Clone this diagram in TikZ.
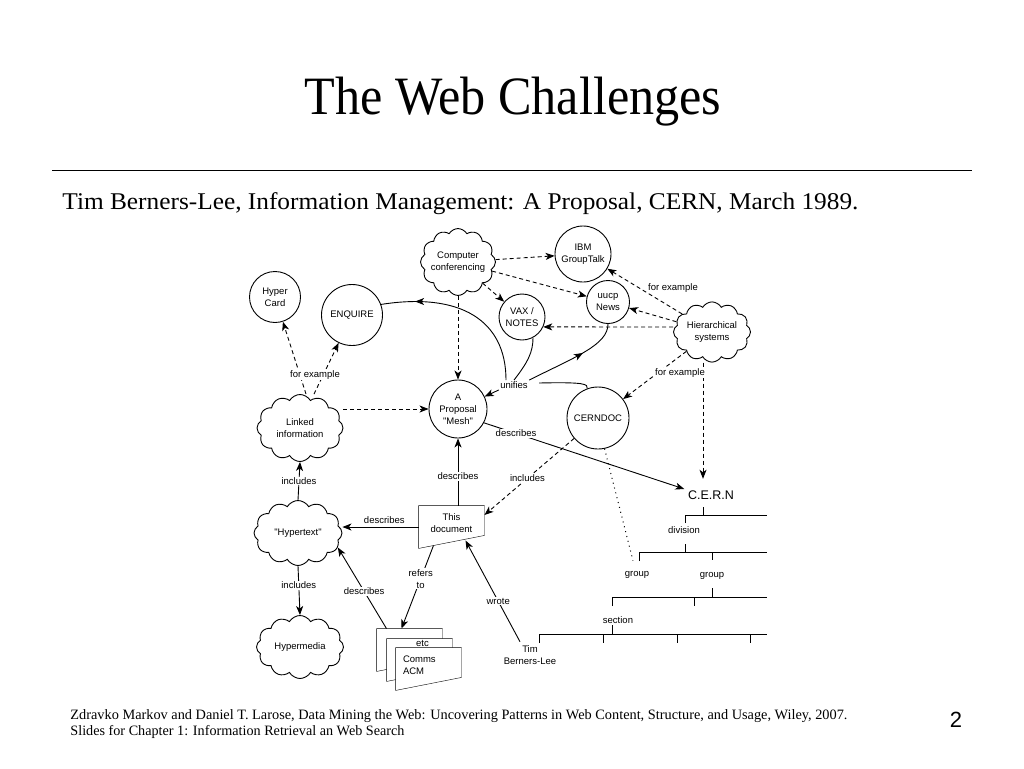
\documentclass[tikz,border=0pt]{standalone}
\usepackage{fontspec}
\usepackage{graphicx}
\setmainfont{Liberation Serif}
\newfontfamily\diagfont{Liberation Sans}
\usetikzlibrary{shapes.symbols, arrows.meta, positioning, backgrounds, decorations.markings}
\newcommand{\diag}{\diagfont\fontsize{9.5}{12}\selectfont}

\begin{document}
\begin{tikzpicture}[
    x=1pt, y=-1pt, line width=0.9pt,
    bubble/.style={circle, draw, align=center, inner sep=0pt, font=\diag},
    puff/.style={cloud, draw, cloud puffs=12, cloud puff arc=120, align=center,
                 inner sep=-6pt, font=\diag},
    sheet/.style={rectangle, minimum width=65pt, minimum height=34pt, inner sep=0pt,
                  align=center, font=\diag},
    lbl/.style={font=\diag, fill=white, inner sep=1pt, align=center},
    see/.style={dash pattern=on 4pt off 3pt, -{Stealth[length=9pt, width=7pt, inset=2.5pt]}},
    link/.style={-{Stealth[length=9pt, width=7pt, inset=2.5pt]}},
    midarrow/.style={postaction={decorate, decoration={markings,
                     mark=at position #1 with {\arrow{Stealth[length=9pt, width=7pt, inset=2.5pt]}}}}}
]
    \useasboundingbox (0,0) rectangle (1024,768);

    % Slide heading
    \node[anchor=base, inner sep=0pt] (title) at (513,114)
        {\resizebox{417pt}{\height}{\fontsize{54}{60}\selectfont The Web Challenges}};
    \draw[line width=1pt] (52,170) -- (972,170);
    \node[anchor=base west, inner sep=0pt] (cite) at (62,209)
        {\resizebox{796pt}{\height}{\fontsize{24}{28}\selectfont Tim Berners-Lee, Information Management: A Proposal, CERN, March 1989.}};

    % Circles and clouds
    \node[puff, minimum width=75pt, minimum height=53pt] (comp) at (458,262) {Computer\\conferencing};
    \node[bubble, minimum size=56pt] (ibm) at (583,254) {IBM\\GroupTalk};
    \node[bubble, minimum size=43pt] (uucp) at (608,302) {uucp\\News};
    \node[bubble, minimum size=46pt] (vax) at (522,317) {VAX /\\NOTES};
    \node[puff, minimum width=77pt, minimum height=57pt] (hier) at (712,332) {Hierarchical\\systems};
    \node[bubble, minimum size=51pt] (hcard) at (275,297) {Hyper\\Card};
    \node[bubble, minimum size=61pt] (enq) at (352,315) {ENQUIRE};
    \node[bubble, minimum size=58pt] (prop) at (458,409) {A\\Proposal\\"Mesh"};
    \node[bubble, minimum size=62pt] (cerndoc) at (598,418) {CERNDOC};
    \node[puff, minimum width=86pt, minimum height=67pt] (linked) at (300,428) {Linked\\information};
    \node[puff, minimum width=88pt, minimum height=65pt] (hyper) at (298,533) {"Hypertext"};
    \node[puff, minimum width=87pt, minimum height=63pt] (hmedia) at (300,647) {Hypermedia};

    % Documents
    \node[sheet] (doc) at (451.5,523) {This\\document};
    \node[sheet] (back) at (409.5,646) {};
    \node[sheet, label={[font=\diag, anchor=north, inner sep=1pt, xshift=3pt]north:etc}] (mid) at (419.5,656) {};
    \node[sheet, text width=51pt, inner xsep=7pt, align=left] (front) at (428.5,665) {Comms\\ACM};
    \begin{scope}[on background layer]
        \fill[white] (0,0) rectangle (1024,768);
        \foreach \s in {doc, back, mid, front}
            \draw[fill=white] (\s.north west) -- (\s.north east) -- ([yshift=5pt]\s.south east)
                -- ([yshift=-8pt]\s.south west) -- cycle;
    \end{scope}

    % Organisation chart
    \node[font=\diagfont\fontsize{12.5}{14}\selectfont] (cern) at (711,495) {C.E.R.N};
    \node[font=\diag] (div) at (684,530) {division};
    \node[font=\diag] (grp1) at (637,575) {group};
    \node[font=\diag] (grp2) at (712,576) {group};
    \node[font=\diag] (sect) at (618,620) {section};
    \node[font=\diag, align=center] (tim) at (530,655) {Tim\\Berners-Lee};
    \draw (703,507) -- (703,515)
          (685,523) -- (685,515) -- (767,515)
          (685,544) -- (685,552)
          (639,561) -- (639,552) -- (767,552)
          (712,552) -- (712,560)
          (712,588) -- (712,597)
          (612,606) -- (612,597) -- (767,597)
          (694,597) -- (694,606)
          (612,625) -- (612,634)
          (539,643) -- (539,634) -- (767,634);
    \foreach \x in {603, 677, 750}
        \draw (\x,634) -- (\x,643);

    % Dashed "for example" links
    \draw[see] (comp) -- (ibm);
    \draw[see] (comp) -- (uucp);
    \draw[see] (comp) -- (vax);
    \draw[see] (comp.south) -- (prop.north);
    \draw[see] (hier) -- (ibm);
    \draw[see] (hier) -- (uucp);
    \draw[see] ([yshift=5pt]hier.west) -- (vax.-25);
    \draw[see] (hier) -- (cerndoc);
    \draw[see] ([xshift=-9pt]hier.south) -- ([xshift=-8pt, yshift=8pt]cern.north);
    \draw[see] ([xshift=6pt]linked.north) -- (hcard);
    \draw[see] ([xshift=14pt]linked.north) -- (enq);
    \draw[see] (linked.east |- prop.west) -- (prop.west);
    \draw[see] (cerndoc) -- node[lbl, pos=0.52] {includes} ([yshift=8pt]doc.east);
    \draw[dash pattern=on 1pt off 4pt, line width=1pt] (cerndoc.-78) -- ([xshift=-4pt, yshift=7pt]grp1.north);
    \node[lbl] (ex1) at (315,375) {for example};
    \node[lbl] (ex2) at (673,288) {for example};
    \node[lbl] (ex3) at (680,373) {for example};

    % unifies
    \node[font=\diag, inner sep=1pt] (unif) at (514,385) {unifies};
    \draw[link] (unif.south west) -- (prop.25);
    \draw[midarrow=0.8] ([xshift=-8pt]unif.north) .. controls (506,320) and (460,292) .. (enq.20);
    \draw (unif.north) .. controls (528,362) and (533,352) .. (vax.-62);
    \draw[midarrow=0.6] (unif.north east) .. controls (575,357) and (608,345) .. (uucp.south);
    \draw ([xshift=10pt, yshift=2pt]unif.east) .. controls (585,382) and (588,384) .. (cerndoc.110);

    % Solid links
    \draw[link] (hyper.north) -- node[lbl] {includes} (linked.south);
    \draw[link] (hyper.south) -- node[lbl, pos=0.4] {includes} (hmedia.north);
    \draw[link] ([yshift=-4pt]doc.west) -- node[above, font=\diag, pos=0.45] {describes}
        ([yshift=-4pt]doc.west -| hyper.east);
    \draw[link] (doc.north -| prop.south) -- node[lbl, pos=0.44] {describes} (prop.south);
    \draw[link] (prop.-28) -- node[lbl, pos=0.16] {describes} ([yshift=6pt]cern.west);
    \draw[link] ([xshift=-18pt, yshift=-5pt]doc.south) -- node[lbl, pos=0.4] {refers\\to}
        ([xshift=-8pt]back.north);
    \draw[link] ([xshift=-23pt]back.north) -- node[lbl, pos=0.46] {describes} (hyper.-20);
    \draw[link] ([xshift=-10pt]tim.north) -- node[lbl, pos=0.4] {wrote} ([xshift=14pt]doc.south);

    % Footer
    \node[anchor=base west, inner sep=0pt] (ref) at (70,719)
        {\resizebox{777pt}{\height}{\fontsize{14.3}{16}\selectfont Zdravko Markov and Daniel T. Larose, Data Mining the Web: Uncovering Patterns in Web Content, Structure, and Usage, Wiley, 2007.}};
    \node[anchor=base west, inner sep=0pt] (chap) at (70,735)
        {\resizebox{334pt}{\height}{\fontsize{14.3}{16}\selectfont Slides for Chapter 1: Information Retrieval an Web Search}};
    \node[anchor=base, inner sep=0pt, font=\diagfont\fontsize{22}{24}\selectfont] (page) at (956,727) {2};
\end{tikzpicture}
\end{document}
